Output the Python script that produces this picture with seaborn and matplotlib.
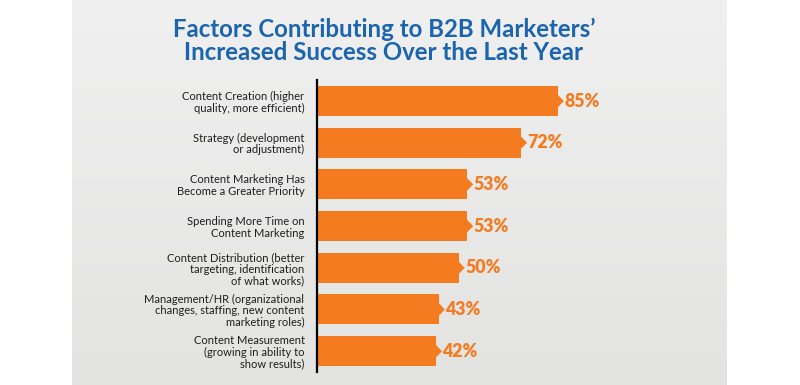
import numpy as np
import pandas as pd
import matplotlib
matplotlib.use("Agg")
import matplotlib.pyplot as plt
import seaborn as sns

categories = [
    "Content Creation (higher\nquality, more efficient)",
    "Strategy (development\nor adjustment)",
    "Content Marketing Has\nBecome a Greater Priority",
    "Spending More Time on\nContent Marketing",
    "Content Distribution (better\ntargeting, identification\nof what works)",
    "Management/HR (organizational\nchanges, staffing, new content\nmarketing roles)",
    "Content Measurement\n(growing in ability to\nshow results)",
]
values = [85, 72, 53, 53, 50, 43, 42]

ORANGE = "#f47b20"
BLUE = "#1b64ae"

sns.set_theme(style="white")
plt.rcParams["font.family"] = ["Lato", "DejaVu Sans"]

df = pd.DataFrame({"factor": categories, "pct": values})

fig = plt.figure(figsize=(8, 3.85), dpi=100)
fig.patch.set_facecolor("white")

# grey panel with a soft vertical gradient
bg = fig.add_axes([72 / 800, 0, 655 / 800, 1], zorder=0)
grad = np.linspace(0, 1, 256).reshape(-1, 1)
bg.imshow(grad, aspect="auto", cmap=matplotlib.colors.LinearSegmentedColormap.from_list(
    "g", ["#f0f0f0", "#e3e3e2"]), extent=[0, 1, 0, 1], origin="upper")
bg.axis("off")

ax = fig.add_axes([317 / 800, 1 - 372 / 385, 283.5 / 800, (372 - 80.2) / 385], zorder=1)
ax.set_facecolor("none")
sns.barplot(data=df, x="pct", y="factor", orient="h", color=ORANGE,
            width=0.72, saturation=1, linewidth=0, ax=ax)

# little arrow tip at the end of each bar + value label
for i, v in enumerate(values):
    ax.fill([v - 0.2, v + 2.1, v - 0.2], [i - 0.16, i, i + 0.16], color=ORANGE, lw=0, zorder=3)
    ax.text(v + 2.3, i, f"{v}%", color=ORANGE, fontsize=12.8, fontweight="heavy",
            va="center", ha="left")

ax.set_xlim(0, 100)
ax.set_ylim(len(values) - 0.5, -0.5)

sns.despine(ax=ax, left=False, bottom=True)
ax.spines["left"].set_color("black")
ax.spines["left"].set_linewidth(1.6)
ax.set_xticks([])
ax.set_xlabel("")
ax.set_ylabel("")
ax.tick_params(axis="y", length=0, pad=9)
for lab in ax.get_yticklabels():
    lab.set_fontsize(8)
    lab.set_color("#1e1e1e")
    lab.set_linespacing(1.05)

fig.text(0.48, 0.893, "Factors Contributing to B2B Marketers\u2019\nIncreased Success Over the Last Year",
         ha="center", va="center", fontsize=17.3, fontweight="bold", color=BLUE,
         linespacing=1.0)

fig.savefig("out.png", dpi=100)
